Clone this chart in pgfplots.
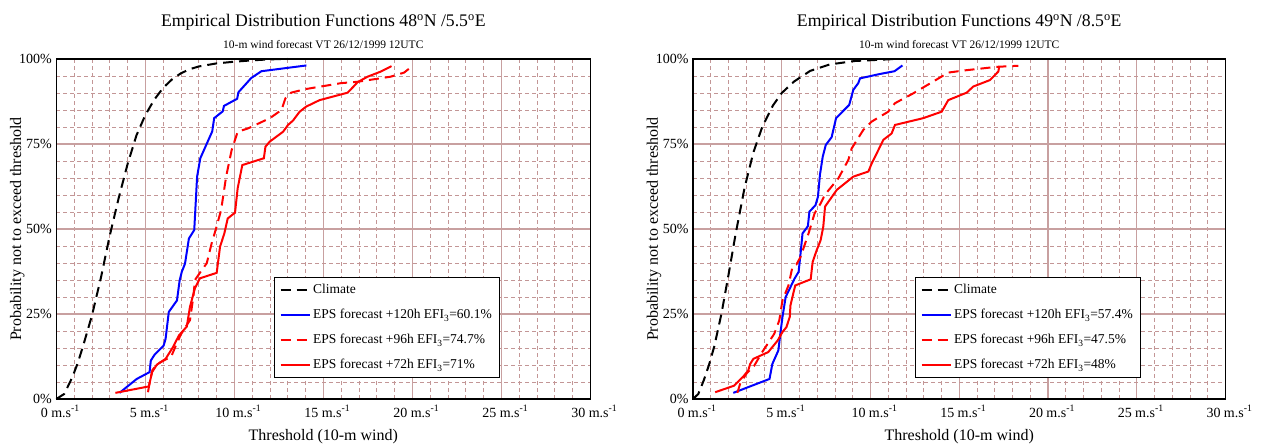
\documentclass[border=0pt]{standalone}
\usepackage{fontspec}
\setmainfont{Liberation Serif}
\usepackage{pgfplots}
\pgfplotsset{compat=1.18}
\definecolor{gridmaj}{RGB}{200,160,160}
\definecolor{gridmin}{RGB}{195,150,150}
\pgfplotsset{
  edf/.style={
    scale only axis, height=340pt,
    xmin=0, xmax=30, ymin=0, ymax=100,
    xtick={0,5,10,15,20,25,30},
    xticklabels={0 m.s\textsuperscript{-1},5 m.s\textsuperscript{-1},10 m.s\textsuperscript{-1},15 m.s\textsuperscript{-1},20 m.s\textsuperscript{-1},25 m.s\textsuperscript{-1},30 m.s\textsuperscript{-1}},
    ytick={0,25,50,75,100},
    yticklabels={0\%,25\%,50\%,75\%,100\%},
    minor x tick num=4, minor y tick num=4,
    grid=both,
    major grid style={gridmaj, line width=1.1pt},
    minor grid style={gridmin, line width=0.8pt, dash pattern=on 4pt off 3pt},
    tick style={draw=none},
    axis line style={black, line width=1.2pt},
    tick label style={font=\fontsize{14}{16}\selectfont},
    xticklabel style={yshift=-3pt, xshift=4pt},
    yticklabel style={xshift=-1pt},
    label style={font=\fontsize{16}{18}\selectfont},
    xlabel={Threshold (10-m wind)},
    ylabel={Probability not to exceed threshold},
    xlabel style={at={(rel axis cs:0.5,-0.112)}, anchor=center},
    ylabel style={at={(rel axis cs:-0.073,0.5)}, anchor=center},
    clip=false,
    legend cell align=left,
    legend image code/.code={\draw[#1] (0pt,0pt) -- (29pt,0pt);},
    legend style={draw=black, line width=1pt, fill=white, anchor=north west,
      font=\fontsize{13.5}{15}\selectfont, row sep=9pt, inner xsep=5pt, inner ysep=5pt,
      nodes={inner sep=2.5pt}},
  },
  clim/.style={black, line width=2pt, dash pattern=on 10pt off 6pt},
  f120/.style={blue, line width=2pt},
  f96/.style={red, line width=2pt, dash pattern=on 10pt off 6pt},
  f72/.style={red, line width=2pt},
}
\begin{document}
\begin{tikzpicture}
\path[use as bounding box] (0,0) rectangle (1261pt,446pt);
% ---------------- left ----------------
\begin{axis}[edf, at={(56.3pt,47pt)}, anchor=south west, width=534pt,
  legend style={at={(rel axis cs:0.408,0.36)}}]
\addplot[clim] coordinates {(0,0) (0.45,1.5) (0.9,6.4) (1.2,10.5) (1.5,15.5) (2.0,24.5) (2.5,35.5) (3.0,48) (3.5,59) (4.0,69) (4.5,77.5) (5.0,83.5) (5.5,88) (6.0,91.5) (6.5,94) (7.0,95.8) (7.5,97) (8.0,97.8) (9.0,98.7) (10,99.2) (11,99.6) (12,99.9) (13,100)};
\addlegendentry{Climate}
\addplot[f120] coordinates {(3.55,1.8) (4.52,5.9) (5.24,7.9) (5.31,11.3) (5.53,13.1) (6.03,15.7) (6.14,17.7) (6.32,25.6) (6.78,29) (6.93,34.9) (7.05,37.4) (7.23,39.8) (7.45,47.2) (7.75,49.7) (7.84,58.5) (7.91,65.4) (8.09,70.8) (8.76,78.7) (8.87,82.6) (9.35,84.6) (9.42,86.2) (10.16,88.3) (10.23,90.2) (10.95,94.4) (11.52,96.4) (14.05,98.1)};
\addlegendentry{EPS forecast +120h EFI\textsubscript{3}=60.1\%}
\addplot[f96] coordinates {(5.15,2.0) (5.25,5) (5.4,8.5) (5.65,10.2) (6.1,11.5) (6.45,12.4) (6.7,15.5) (7.0,19) (7.3,21.5) (7.51,23.2) (7.7,30.1) (7.79,35) (8.17,37.9) (8.45,39.9) (8.73,45.8) (8.95,49.7) (9.26,55.6) (9.54,65.4) (9.85,73.2) (10.19,78.6) (10.78,79.6) (12.0,82.6) (12.65,85) (12.87,88.4) (13.2,90.1) (13.95,91.1) (16.0,92.9) (16.93,93.3) (18.79,94.8) (19.54,96) (20.0,97.9)};
\addlegendentry{EPS forecast +96h EFI\textsubscript{3}=74.7\%}
\addplot[f72] coordinates {(3.32,1.8) (5.2,3.7) (5.38,7.9) (5.65,10.1) (6.14,11.8) (6.55,15.2) (6.89,18.7) (7.33,21.3) (7.51,27.1) (7.79,32.6) (8.07,35.5) (9.01,37.1) (9.2,44.8) (9.44,48.7) (9.63,53.1) (10.04,54.8) (10.19,62) (10.45,68.8) (11.66,70.8) (11.75,74.2) (11.99,75.7) (12.74,78.6) (13.02,80.6) (13.3,81.9) (13.67,84.5) (14.04,86) (14.79,87.9) (16.37,90.1) (16.7,91.9) (16.93,93.2) (17.49,94.8) (18.23,96.3) (18.83,97.9)};
\addlegendentry{EPS forecast +72h EFI\textsubscript{3}=71\%}
\node[anchor=base, font=\fontsize{17.7}{20}\selectfont] at (rel axis cs:0.5,1) [yshift=32pt] {Empirical Distribution Functions 48\textsuperscript{o}N /5.5\textsuperscript{o}E};
\node[anchor=base, font=\fontsize{11.5}{13}\selectfont] at (rel axis cs:0.5,1) [yshift=10pt] {10-m wind forecast VT 26/12/1999 12UTC};
\end{axis}
% ---------------- right ----------------
\begin{axis}[edf, at={(693pt,47pt)}, anchor=south west, width=532.5pt,
  legend style={at={(rel axis cs:0.417,0.36)}}]
\addplot[clim] coordinates {(0,0) (0.3,1.5) (0.6,5.4) (0.9,10) (1.2,15.5) (1.6,25) (2.0,36.5) (2.4,48.5) (2.9,62) (3.4,72.5) (3.9,80) (4.5,86.3) (5.0,90) (5.7,93.4) (6.6,96.5) (7.7,98.4) (9.1,99.4) (11.4,100)};
\addlegendentry{Climate}
\addplot[f120] coordinates {(2.27,1.8) (4.31,5.9) (4.47,10.3) (4.81,14.3) (4.92,19.2) (5.04,24.1) (5.22,30) (5.49,32.9) (5.72,35.4) (5.95,37.4) (6.06,42.8) (6.17,48.7) (6.47,50.8) (6.56,55.1) (6.9,57) (7.04,59.5) (7.15,65.9) (7.31,71.3) (7.48,74.7) (7.81,77) (8.06,82.6) (8.8,86.5) (9.03,90.9) (9.31,92.9) (9.41,94.3) (10.54,95.6) (11.35,96.4) (11.8,98.1)};
\addlegendentry{EPS forecast +120h EFI\textsubscript{3}=57.4\%}
\addplot[f96] coordinates {(2.5,1.8) (2.65,4.4) (3.0,7.4) (3.45,9.8) (3.9,13.8) (4.58,19.2) (4.86,23.1) (5.04,29) (5.38,33.4) (5.6,38.8) (5.83,39.6) (6.06,41.8) (6.51,48.7) (6.85,54.6) (7.19,57.5) (7.42,60) (8.19,64.9) (8.75,70.3) (8.94,73.7) (9.59,79.1) (10.07,81.6) (11.0,84.5) (11.38,87) (12.41,89.9) (13.35,92.8) (14.38,96) (15.23,96.6) (17.11,97.7) (18.33,98)};
\addlegendentry{EPS forecast +96h EFI\textsubscript{3}=47.5\%}
\addplot[f72] coordinates {(1.25,2) (2.31,3.9) (2.88,6.9) (3.11,8.4) (3.22,10.3) (3.4,11.8) (4.24,13.8) (4.77,17.2) (5.04,19.7) (5.26,21.1) (5.45,24.1) (5.49,27.5) (5.67,31.5) (5.76,33.4) (6.63,35.2) (6.74,40.3) (6.97,43.8) (7.19,46.7) (7.34,50.7) (7.44,56.6) (8.1,61.5) (9.03,65.4) (9.88,66.9) (10.07,69.3) (10.44,73.2) (10.72,76.2) (11.19,78.1) (11.38,80.6) (12.97,82.6) (14.01,84.5) (14.38,87.9) (15.42,90.1) (15.79,91.9) (16.73,93.8) (17.2,96.3) (17.26,97.9)};
\addlegendentry{EPS forecast +72h EFI\textsubscript{3}=48\%}
\node[anchor=base, font=\fontsize{17.7}{20}\selectfont] at (rel axis cs:0.5,1) [yshift=32pt] {Empirical Distribution Functions 49\textsuperscript{o}N /8.5\textsuperscript{o}E};
\node[anchor=base, font=\fontsize{11.5}{13}\selectfont] at (rel axis cs:0.5,1) [yshift=10pt] {10-m wind forecast VT 26/12/1999 12UTC};
\end{axis}
\end{tikzpicture}
\end{document}
